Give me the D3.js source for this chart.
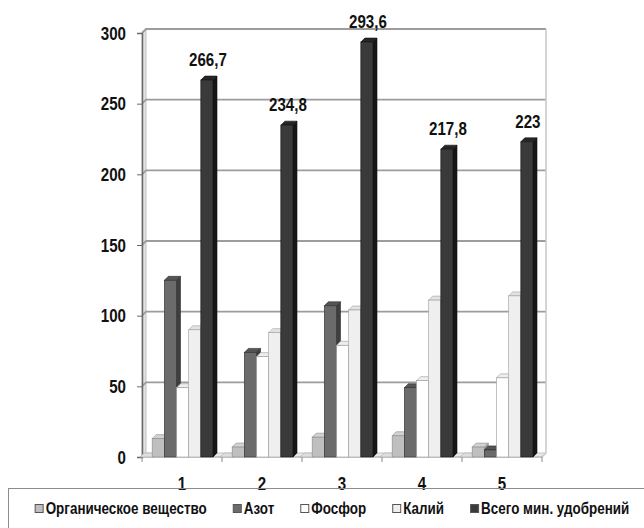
<!DOCTYPE html>
<html>
<head>
<meta charset="utf-8">
<script src="https://cdn.jsdelivr.net/npm/d3@7"></script>
<style>
  html, body { margin: 0; padding: 0; background: #fff; }
  svg { display: block; }
  text { font-family: "Liberation Sans", Arial, sans-serif; font-weight: bold; fill: #111; }
</style>
</head>
<body>
<svg id="chart" width="644" height="528"></svg>
<script>
// Categories (sites 1..5) and nutrient series
const categories = ["1", "2", "3", "4", "5"];
const emptySeries = [0, 0, 0, 0, 0];
const organic = [13, 7, 14, 15, 7];
const nitrogen = [125, 74, 107, 49, 5];
const phosphorus = [49, 71, 79, 54, 56];
const potassium = [90, 88, 104, 111, 114];
const totalMineral = [266.7, 234.8, 293.6, 217.8, 223];
const yTicks = [0, 50, 100, 150, 200, 250, 300];

const seriesNames = ["", "Органическое вещество", "Азот", "Фосфор", "Калий", "Всего мин. удобрений"];
const seriesValues = [emptySeries, organic, nitrogen, phosphorus, potassium, totalMineral];

// face colours per series: front, side, top
const palette = [
  { front: "#d4d4d4", side: "#bcbcbc", top: "#dedede", stroke: "#a8a8a8" },
  { front: "#bfbfbf", side: "#9e9e9e", top: "#d2d2d2", stroke: "#8a8a8a" },
  { front: "#6b6b6b", side: "#3e3e3e", top: "#555555", stroke: "#2e2e2e" },
  { front: "#ffffff", side: "#e2e2e2", top: "#eeeeee", stroke: "#9a9a9a" },
  { front: "#efefef", side: "#d6d6d6", top: "#e2e2e2", stroke: "#a0a0a0" },
  { front: "#3a3a3a", side: "#161616", top: "#262626", stroke: "#111111" }
];

const NARROW = 0.84;   // horizontal squeeze for a condensed face
const svg = d3.select("#chart");

// text with a condensed look: scaled horizontally around its anchor point
function label(parent, x, yy, str, size, anchor) {
  return parent.append("text")
    .attr("transform", `translate(${x},${yy}) scale(${NARROW},1)`)
    .attr("text-anchor", anchor || "start")
    .attr("font-size", size)
    .text(str);
}

const DX = 4, DY = 4;           // depth offset of the 3D box
const left = 142, right = 542;  // front plane extent
const yMax = 300;

const y = d3.scaleLinear().domain([0, yMax]).range([457, 33]);
const x0 = d3.scaleBand().domain(categories).range([left, right]).padding(0);
const seriesKeys = d3.range(seriesNames.length);
const x1 = d3.scaleBand().domain(seriesKeys).range([-2, 71]).padding(0);
const w = x1.bandwidth();

// back wall
svg.append("rect")
  .attr("x", left + DX).attr("y", y(yMax) - DY)
  .attr("width", right - left).attr("height", y(0) - y(yMax))
  .attr("fill", "#fff");

// left side wall
svg.append("path")
  .attr("d", `M${left},${y(yMax)}L${left + DX},${y(yMax) - DY}L${left + DX},${y(0) - DY}L${left},${y(0)}Z`)
  .attr("fill", "#e2e2e2").attr("stroke", "#c0c0c0").attr("stroke-width", 1);

// floor
svg.append("path")
  .attr("d", `M${left},${y(0)}L${left + DX},${y(0) - DY}L${right + DX},${y(0) - DY}L${right},${y(0)}Z`)
  .attr("fill", "#e8e8e8").attr("stroke", "#c8c8c8").attr("stroke-width", 1);

// gridlines on the back wall and left wall
const grid = svg.append("g");
yTicks.filter(t => t > 0).forEach(t => {
  grid.append("path")
    .attr("d", `M${left},${y(t)}L${left + DX},${y(t) - DY}L${right + DX},${y(t) - DY}`)
    .attr("fill", "none").attr("stroke", "#9c9c9c").attr("stroke-width", 1.8);
});

// right edge of the back wall
svg.append("path")
  .attr("d", `M${right + DX},${y(yMax) - DY}L${right + DX},${y(0) - DY}L${right},${y(0)}`)
  .attr("fill", "none").attr("stroke", "#c8c8c8").attr("stroke-width", 1.5);

// y axis line and ticks
const yAxis = svg.append("g").attr("transform", `translate(${left},0)`)
  .call(d3.axisLeft(y).tickValues(yTicks).tickSize(5).tickFormat(""));
yAxis.select(".domain").attr("stroke", "#6a6a6a").attr("stroke-width", 1.5);
yAxis.selectAll(".tick line").attr("stroke", "#6a6a6a");
yTicks.forEach(t => label(svg, 126, y(t) + 6.5, String(t), 18, "end"));

// x axis with boundary ticks
const xAxisG = svg.append("g");
xAxisG.append("line").attr("x1", left).attr("x2", right).attr("y1", y(0)).attr("y2", y(0))
  .attr("stroke", "#b0b0b0").attr("stroke-width", 1.2);
d3.range(categories.length + 1).forEach(i => {
  const xx = left + i * x0.step();
  xAxisG.append("line").attr("x1", xx).attr("x2", xx).attr("y1", y(0)).attr("y2", y(0) + 5)
    .attr("stroke", "#8a8a8a");
});
categories.forEach(c => label(xAxisG, x0(c) + x0.bandwidth() / 2, 490, c, 18, "middle"));

// 3D bars, drawn left to right so each front face overlaps the previous side face
const bars = svg.append("g");
categories.forEach((c, ci) => {
  seriesKeys.forEach(si => {
    const v = seriesValues[si][ci];
    const xl = x0(c) + x1(si);
    const yt = y(v), yb = y(0);
    const col = palette[si];
    const g = bars.append("g");
    g.append("path")
      .attr("d", `M${xl + w},${yt}L${xl + w + DX},${yt - DY}L${xl + w + DX},${yb - DY}L${xl + w},${yb}Z`)
      .attr("fill", col.side).attr("stroke", col.stroke).attr("stroke-width", 0.6);
    g.append("path")
      .attr("d", `M${xl},${yt}L${xl + DX},${yt - DY}L${xl + w + DX},${yt - DY}L${xl + w},${yt}Z`)
      .attr("fill", col.top).attr("stroke", col.stroke).attr("stroke-width", 0.6);
    g.append("rect")
      .attr("x", xl).attr("y", yt).attr("width", w).attr("height", yb - yt)
      .attr("fill", col.front).attr("stroke", col.stroke).attr("stroke-width", 0.6);
  });
});

// value labels above the total bars
const fmt = v => String(v).replace(".", ",");
const totalIdx = seriesNames.length - 1;
const valG = svg.append("g");
totalMineral.forEach((v, i) => {
  label(valG, x0(categories[i]) + x1(totalIdx) + w / 2 + 1, y(v) - 14, fmt(v), 18, "middle");
});

// legend
svg.append("rect").attr("x", 8.5).attr("y", 488.5).attr("width", 700).attr("height", 100)
  .attr("fill", "none").attr("stroke", "#8c8c8c").attr("stroke-width", 1);
const legend = svg.append("g");
const items = seriesKeys.filter(si => seriesNames[si] !== "");
const texts = items.map(si => label(legend, 0, 514, seriesNames[si], 16, "start"));
const widths = texts.map(t => t.node().getComputedTextLength() * NARROW);
const sw = 8, swGap = 3, itemGap = 26;
const total = d3.sum(widths) + items.length * (sw + swGap) + (items.length - 1) * itemGap;
let cx = 332 - total / 2;
items.forEach((si, k) => {
  const col = palette[si];
  legend.append("rect").attr("x", cx + 0.5).attr("y", 504.5).attr("width", sw).attr("height", sw)
    .attr("fill", col.front).attr("stroke", "#555").attr("stroke-width", 1);
  texts[k].attr("transform", `translate(${cx + sw + swGap},514) scale(${NARROW},1)`);
  cx += sw + swGap + widths[k] + itemGap;
});
</script>
</body>
</html>
